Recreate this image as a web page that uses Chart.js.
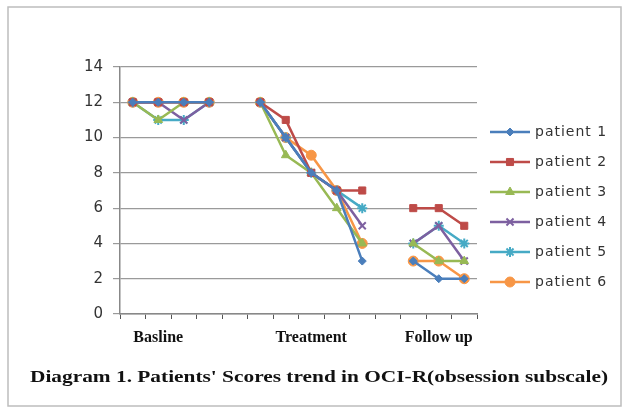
<!DOCTYPE html>
<html>
<head>
<meta charset="utf-8">
<script src="https://cdn.jsdelivr.net/npm/chart.js@4/dist/chart.umd.min.js"></script>
<style>
  html, body { margin: 0; padding: 0; background: #fff; }
  canvas { display: block; }
</style>
</head>
<body>
<canvas id="c" width="625" height="408"></canvas>
<script>
// categories: 14 slots, gaps at 4 and 10 separate the three phases
const categories = ["", "Basline", "", "", "", "", "", "Treatment", "", "", "", "", "Follow up", ""];

const patient1 = [12, 12, 12, 12, null, 12, 10, 8, 7, 3, null, 3, 2, 2];
const patient2 = [12, 12, 12, 12, null, 12, 11, 8, 7, 7, null, 6, 6, 5];
const patient3 = [12, 11, 12, 12, null, 12, 9, 8, 6, 4, null, 4, 3, 3];
const patient4 = [12, 12, 11, 12, null, 12, 10, 8, 7, 5, null, 4, 5, 3];
const patient5 = [12, 11, 11, 12, null, 12, 10, 8, 7, 6, null, 4, 5, 4];
const patient6 = [12, 12, 12, 12, null, 12, 10, 9, 7, 4, null, 3, 3, 2];

const seriesNames = ["patient 1", "patient 2", "patient 3", "patient 4", "patient 5", "patient 6"];
const yTicks = [0, 2, 4, 6, 8, 10, 12, 14];
const titleText = "Diagram 1. Patients' Scores trend in OCI-R(obsession subscale)";

const colors = ["#4A7EBB", "#BE4B48", "#98B954", "#7D60A0", "#46AAC5", "#F79646"];
const markers = ["rectRot", "rect", "triangle", "crossRot", "star", "circle"];
const radii = [4, 5, 5, 5, 5, 5];

const allData = [patient1, patient2, patient3, patient4, patient5, patient6];

const datasets = allData.map((d, i) => ({
  label: seriesNames[i],
  data: d,
  borderColor: colors[i],
  backgroundColor: colors[i],
  borderWidth: 2.5,
  pointStyle: markers[i],
  pointRadius: radii[i],
  pointBorderWidth: (markers[i] === "crossRot" || markers[i] === "star") ? 2 : 1,
  pointBorderColor: colors[i],
  pointBackgroundColor: colors[i],
  tension: 0,
  spanGaps: false
}));

// frame, legend (line with marker) and the caption under the chart
const extras = {
  id: "extras",
  afterDraw(chart) {
    const ctx = chart.ctx;
    ctx.save();
    ctx.strokeStyle = "#bdbdbd";
    ctx.lineWidth = 1.5;
    ctx.strokeRect(8, 7, 613, 399);

    chart.data.datasets.forEach((ds, i) => {
      const y = 132 + i * 30;
      ctx.strokeStyle = ds.borderColor;
      ctx.lineWidth = 2.5;
      ctx.beginPath();
      ctx.moveTo(490, y);
      ctx.lineTo(530, y);
      ctx.stroke();
      ctx.fillStyle = ds.borderColor;
      ctx.lineWidth = ds.pointBorderWidth;
      Chart.helpers.drawPoint(ctx, { pointStyle: ds.pointStyle, radius: ds.pointRadius, borderWidth: ds.pointBorderWidth, rotation: 0 }, 510, y);
      ctx.fillStyle = "#333";
      ctx.font = "14px 'DejaVu Sans'";
      ctx.letterSpacing = "1px";
      ctx.textBaseline = "middle";
      ctx.textAlign = "left";
      ctx.fillText(ds.label, 535, y);
      ctx.letterSpacing = "0px";
    });

    // caption, stretched sideways like the source image
    ctx.font = "bold 16px 'Liberation Serif'";
    ctx.fillStyle = "#111";
    ctx.textBaseline = "middle";
    ctx.textAlign = "left";
    const w = ctx.measureText(titleText).width;
    const sx = 578 / w;
    ctx.translate(30, 378);
    ctx.scale(sx, 1);
    ctx.fillText(titleText, 0, 0);
    ctx.restore();
  }
};

new Chart(document.getElementById("c"), {
  type: "line",
  data: { labels: categories, datasets },
  options: {
    responsive: false,
    animation: false,
    layout: { padding: { top: 67, left: 70, right: 148, bottom: 54 } },
    plugins: {
      legend: { display: false },
      tooltip: { enabled: false },
      title: { display: false }
    },
    scales: {
      x: {
        offset: true,
        afterFit: s => { s.height = 40; },
        grid: { drawOnChartArea: false, drawTicks: true, tickLength: 5, color: "#555", offset: true },
        border: { color: "#888", width: 1.5 },
        ticks: {
          autoSkip: false, maxRotation: 0, padding: 9,
          color: "#111",
          font: { family: "'Liberation Serif'", size: 16, weight: "bold" }
        }
      },
      y: {
        min: 0, max: 14,
        afterFit: s => { s.width = 50; },
        afterBuildTicks: s => { s.ticks = yTicks.map(v => ({ value: v })); },
        grid: { color: "#9a9a9a", lineWidth: 1.2, tickLength: 7 },
        border: { color: "#888", width: 1.5 },
        ticks: {
          padding: 10,
          color: "#333",
          font: { family: "'DejaVu Sans'", size: 15 }
        }
      }
    }
  },
  plugins: [extras]
});
</script>
</body>
</html>
